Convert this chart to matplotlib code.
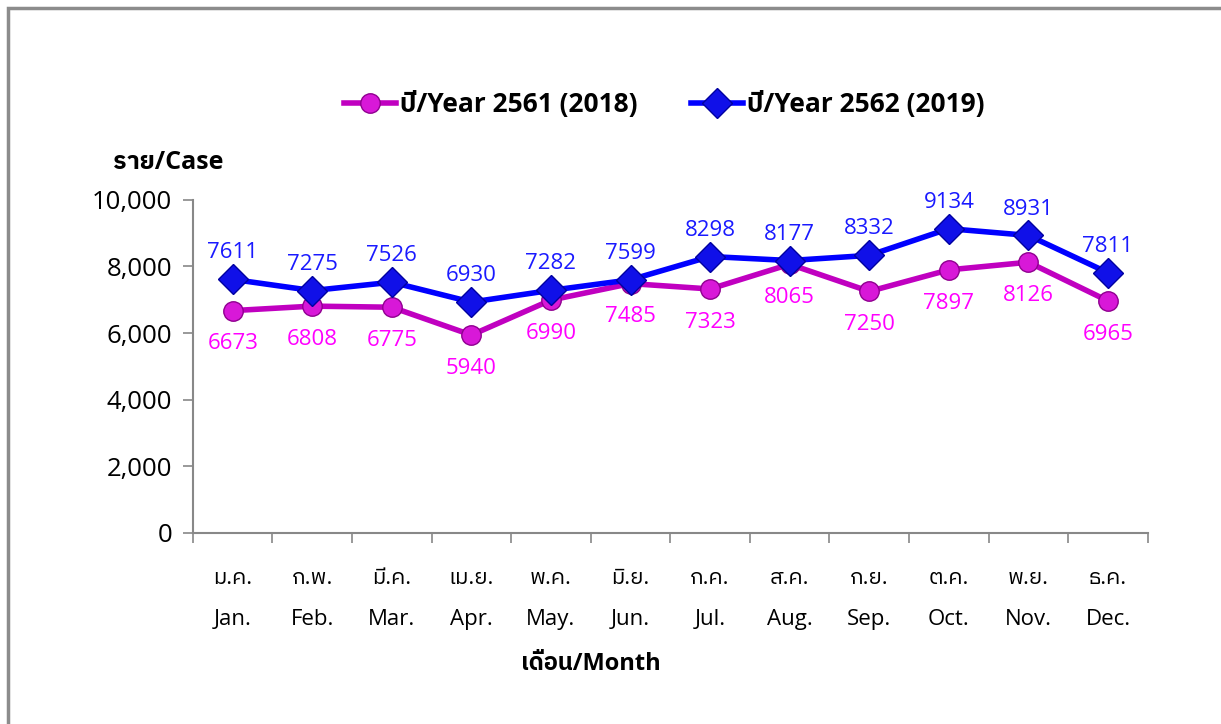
import matplotlib
matplotlib.use('Agg')
import matplotlib.pyplot as plt
from matplotlib import font_manager
from matplotlib.ft2font import FT2Font
from matplotlib.patches import Rectangle

months_th = ['ม.ค.', 'ก.พ.', 'มี.ค.', 'เม.ย.', 'พ.ค.', 'มิ.ย.', 'ก.ค.', 'ส.ค.', 'ก.ย.', 'ต.ค.', 'พ.ย.', 'ธ.ค.']
months_en = ['Jan.', 'Feb.', 'Mar.', 'Apr.', 'May.', 'Jun.', 'Jul.', 'Aug.', 'Sep.', 'Oct.', 'Nov.', 'Dec.']
cases_2018 = [6673, 6808, 6775, 5940, 6990, 7485, 7323, 8065, 7250, 7897, 8126, 6965]
cases_2019 = [7611, 7275, 7526, 6930, 7282, 7599, 8298, 8177, 8332, 9134, 8931, 7811]
label_2018 = 'ปี/Year 2561 (2018)'
label_2019 = 'ปี/Year 2562 (2019)'

# find an installed font that has Thai glyphs
thai_family = None
for f in font_manager.fontManager.ttflist:
    try:
        if 0x0E01 in FT2Font(f.fname).get_charmap():
            thai_family = f.name
            if 'Sans' in f.name:
                break
    except Exception:
        pass

families = ['Open Sans']
if thai_family:
    families.append(thai_family)
families.append('DejaVu Sans')
plt.rcParams['font.family'] = families

fig = plt.figure(figsize=(12.21, 7.24), dpi=100)
ax = fig.add_axes([0.158, 0.264, 0.782, 0.46])

x = list(range(len(months_en)))
ax.plot(x, cases_2018, color='#C000C0', lw=4, marker='o', ms=14,
        mfc='#D818D8', mec='#900090', mew=1, label=label_2018, zorder=3)
ax.plot(x, cases_2019, color='#0000FF', lw=4, marker='D', ms=15,
        mfc='#1010E8', mec='#0000A0', mew=1, label=label_2019, zorder=4)

for i, v in enumerate(cases_2018):
    ax.annotate(str(v), (i, v), xytext=(0, -24), textcoords='offset points',
                ha='center', va='center', fontsize=16, color='#FF00FF')
for i, v in enumerate(cases_2019):
    ax.annotate(str(v), (i, v), xytext=(0, 19), textcoords='offset points',
                ha='center', va='center', fontsize=16, color='#1a1aff')

ax.set_xlim(-0.5, 11.5)
ax.set_ylim(0, 10000)
ax.set_yticks(range(0, 10001, 2000))
ax.set_yticklabels(['{:,}'.format(t) for t in range(0, 10001, 2000)], fontsize=18.5)
ax.set_xticks(x)
ax.set_xticklabels([a + '\n' + b for a, b in zip(months_th, months_en)],
                   fontsize=16, linespacing=2.25)
ax.set_xticks([i - 0.5 for i in range(13)], minor=True)
ax.tick_params(axis='x', which='major', length=0, pad=25)
ax.tick_params(axis='x', which='minor', length=7, color='#888888', width=1.2)
ax.tick_params(axis='y', length=7, color='#888888', width=1.2, pad=8)

for s in ['top', 'right']:
    ax.spines[s].set_visible(False)
for s in ['left', 'bottom']:
    ax.spines[s].set_color('#888888')
    ax.spines[s].set_linewidth(1.5)

fig.text(0.138, 0.775, 'ราย/Case', fontsize=18, fontweight='bold', ha='center', va='center')
fig.text(0.484, 0.083, 'เดือน/Month', fontsize=17, fontweight='bold', ha='center', va='center')

fig.legend(loc='center', bbox_to_anchor=(0.544, 0.855), ncol=2, frameon=False,
           prop={'size': 19, 'weight': 'bold'}, handlelength=2.0, columnspacing=2.0,
           handletextpad=0.15)

fig.patches.append(Rectangle((8 / 1221, -0.1), 1.2, 1 - 8 / 724 + 0.1,
                             transform=fig.transFigure, fill=False,
                             edgecolor='#8c8c8c', lw=2.5))

fig.savefig('out.png', dpi=100)
